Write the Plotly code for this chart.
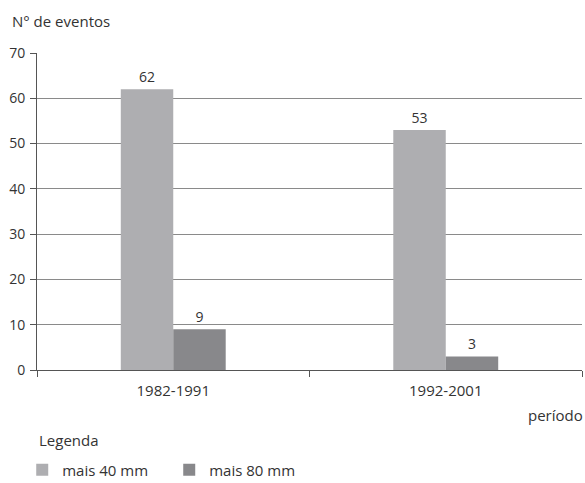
import plotly.graph_objects as go

categories = ["1982-1991", "1992-2001"]
mais40 = [62, 53]
mais80 = [9, 3]
series_names = ["mais 40 mm", "mais 80 mm"]
y_ticks = [0, 10, 20, 30, 40, 50, 60, 70]

FONT = "Open Sans"
TXT = "#333333"

fig = go.Figure()
fig.add_trace(go.Bar(x=categories, y=mais40, name=series_names[0],
                     marker=dict(color="#aeaeb1", line=dict(width=0)),
                     text=[str(v) for v in mais40], textposition="outside",
                     textfont=dict(family=FONT, size=14, color=TXT), cliponaxis=False))
fig.add_trace(go.Bar(x=categories, y=mais80, name=series_names[1],
                     marker=dict(color="#88888b", line=dict(width=0)),
                     text=[str(v) for v in mais80], textposition="outside",
                     textfont=dict(family=FONT, size=14, color=TXT), cliponaxis=False))

fig.update_layout(
    width=585, height=483,
    margin=dict(l=37, r=3, t=53, b=113),
    paper_bgcolor="white", plot_bgcolor="white",
    barmode="group", bargap=0.615, bargroupgap=0,
    font=dict(family=FONT, size=14, color=TXT),
    showlegend=True,
    legend=dict(orientation="h", xref="container", yref="container",
                x=0.038, xanchor="left", y=0.027, yanchor="middle",
                font=dict(size=15), itemwidth=30, entrywidth=102,
                entrywidthmode="pixels", traceorder="normal"),
    xaxis=dict(type="category", tickson="boundaries", ticks="outside", ticklen=6,
               tickcolor="#555555", showline=True, linecolor="#555555", linewidth=1,
               showgrid=False, tickfont=dict(size=15), automargin=False,
               ticklabelstandoff=7),
    yaxis=dict(range=[0, 70], tickvals=y_ticks, ticks="outside", ticklen=6,
               tickcolor="#555555", showline=True, linecolor="#555555", linewidth=1,
               showgrid=True, gridcolor="#8a8a8a", gridwidth=1, zeroline=False,
               tickfont=dict(size=14), automargin=False, ticklabelstandoff=2),
    annotations=[
        dict(text="N° de eventos", xref="paper", yref="paper", x=-0.05, y=1.0,
             xanchor="left", yanchor="bottom", yshift=20, showarrow=False,
             font=dict(size=15, color=TXT)),
        dict(text="período", xref="paper", yref="paper", x=1.0, y=0,
             xanchor="right", yanchor="top", yshift=-33, xshift=3, showarrow=False,
             font=dict(size=15, color=TXT)),
        dict(text="Legenda", xref="paper", yref="paper", x=0, y=0,
             xanchor="left", yanchor="middle", yshift=-70, showarrow=False,
             font=dict(size=15, color=TXT)),
    ],
)

fig.write_html("out.html", config={"displayModeBar": False},
               post_script="document.body.style.margin='0px';")
